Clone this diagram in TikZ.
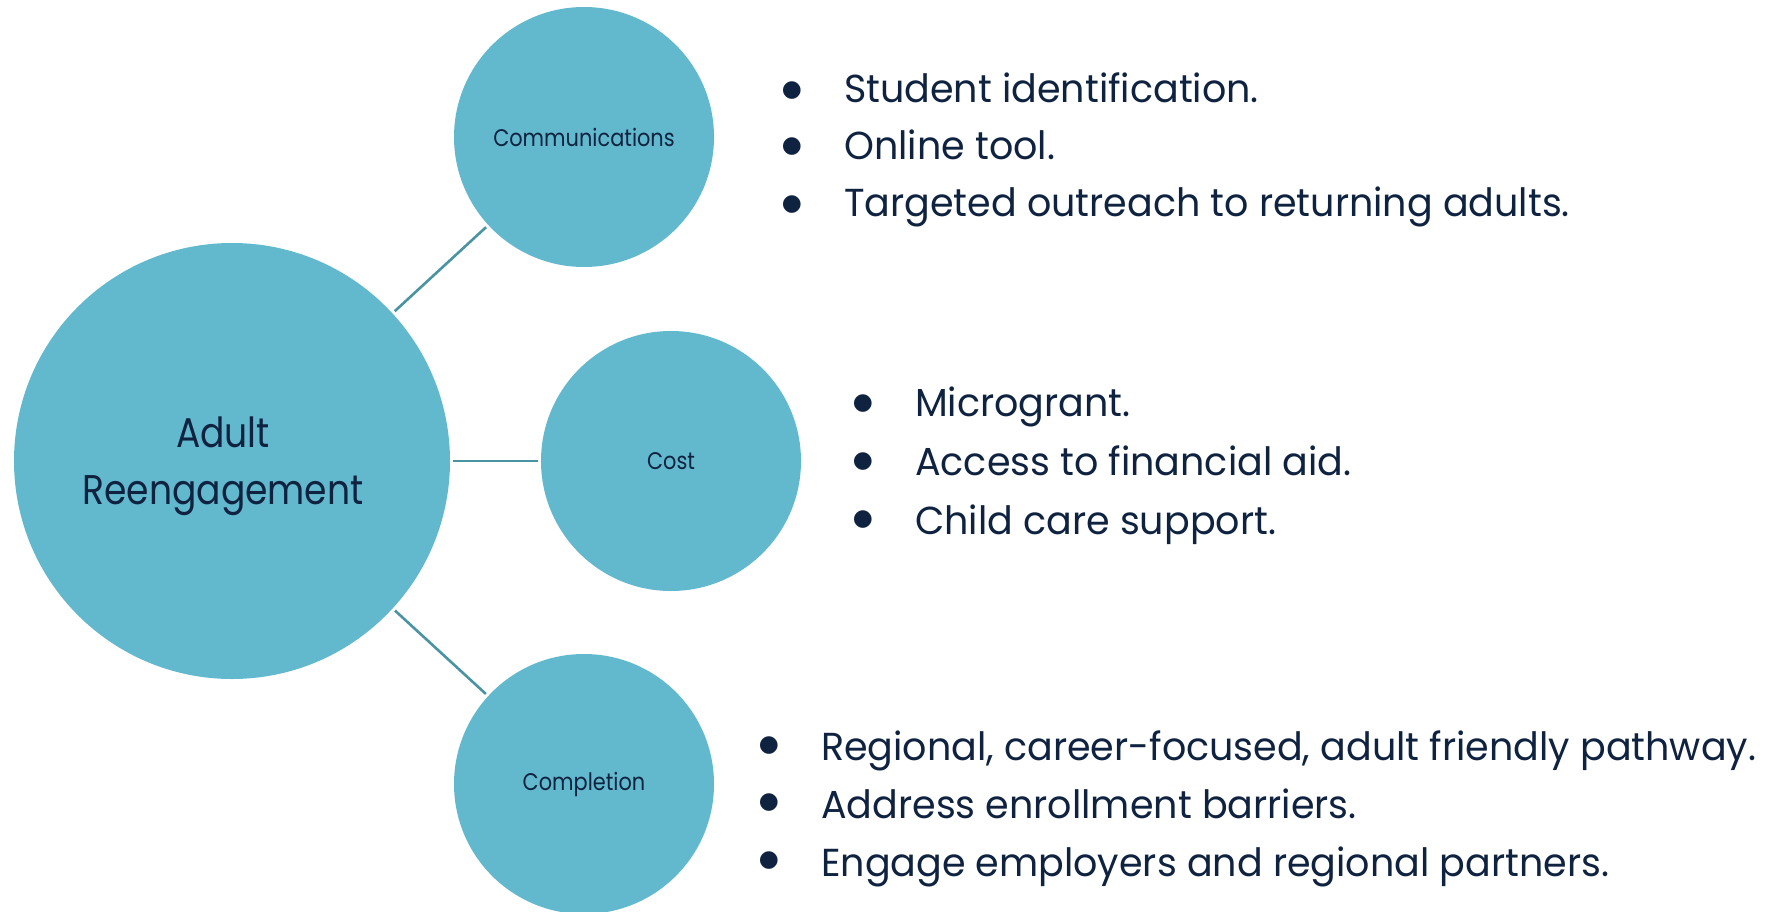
\documentclass[tikz,border=0pt]{standalone}
\usepackage{fontspec}
\setmainfont[FakeStretch=0.975]{Poppins}
\newfontfamily\labelfont[FakeStretch=0.87]{Poppins}
\newfontfamily\dotfont{DejaVu Sans}
\definecolor{circfill}{HTML}{62B8CC}
\definecolor{linecol}{HTML}{4A93A3}
\definecolor{txtcol}{HTML}{0F2341}
\begin{document}
\begin{tikzpicture}[x=1pt,y=-1pt,
  bubble/.style={circle,fill=circfill,draw=none,inner sep=0pt,text=txtcol,align=center},
  bigbubble/.style={bubble,minimum size=436pt},
  bigtext/.style={inner sep=0pt,text=txtcol,align=center,font=\labelfont\fontsize{41.5}{57}\selectfont},
  smallbubble/.style={bubble,minimum size=260pt,font=\labelfont\fontsize{24}{30}\selectfont},
  conn/.style={draw=linecol,line width=2.6pt,shorten <=3pt,shorten >=3pt},
  item/.style={anchor=base west,inner sep=0pt,text=txtcol,font=\fontsize{39}{40}\selectfont},
  dot/.style={anchor=center,inner sep=0pt,text=txtcol,font=\dotfont\fontsize{23}{23}\selectfont}]
\useasboundingbox (0,0) rectangle (1774,912);
\node[bigbubble] (adult) at (232,461) {};
\node[bigtext] (adulttxt) at (223,466) {Adult\\Reengagement};
\node[smallbubble] (comm) at (584,137) {Communications};
\node[smallbubble] (cost) at (671,461) {Cost};
\node[smallbubble] (comp) at (584,784) {Completion};
\draw[conn] (adult) -- (comm);
\draw[conn] (adult) -- (cost);
\draw[conn] (adult) -- (comp);
% top list
\node[dot] (b1) at (792,90.5) {●};
\node[dot] (b2) at (792,147) {●};
\node[dot] (b3) at (792,205) {●};
\node[item] (t1) at (844,103) {Student identification.};
\node[item] (t2) at (844,160) {Online tool.};
\node[item] (t3) at (844,217) {Targeted outreach to returning adults.};
% middle list
\node[dot] (b4) at (863,404) {●};
\node[dot] (b5) at (863,462) {●};
\node[dot] (b6) at (863,520) {●};
\node[item] (t4) at (915,416) {Microgrant.};
\node[item] (t5) at (915,475) {Access to financial aid.};
\node[item] (t6) at (915,534) {Child care support.};
% bottom list
\node[dot] (b7) at (769,746) {●};
\node[dot] (b8) at (769,803) {●};
\node[dot] (b9) at (769,861) {●};
\node[item] (t7) at (821,760) {Regional, career-focused, adult friendly pathway.};
\node[item] (t8) at (821,818) {Address enrollment barriers.};
\node[item] (t9) at (821,876) {Engage employers and regional partners.};
\end{tikzpicture}
\end{document}
